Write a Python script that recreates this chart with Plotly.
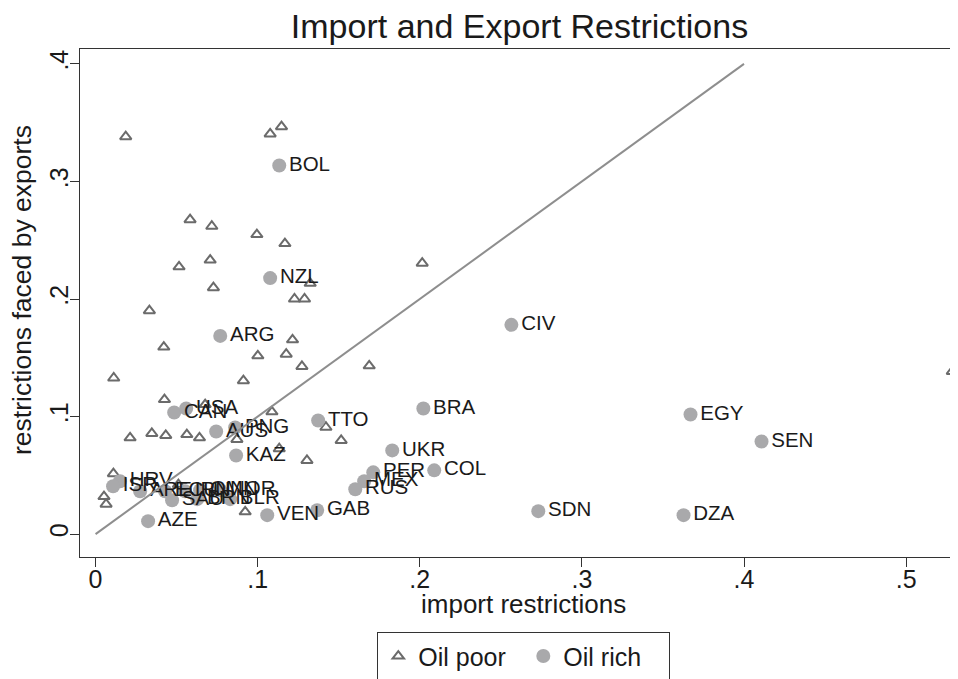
import plotly.graph_objects as go

# Oil rich countries (labelled)
rich_codes = ["BOL", "NZL", "ARG", "CIV", "BRA", "EGY", "SEN", "TTO", "UKR", "COL",
              "PER", "MEX", "RUS", "GAB", "SDN", "DZA", "VEN", "AZE", "KAZ", "AUS",
              "PNG", "CAN", "USA", "HRV", "ISR", "ARE", "ECU", "IRN", "OMN", "NOR",
              "SAU", "BRN", "BLR"]
rich_import = [0.1133, 0.1077, 0.0769, 0.2565, 0.2022, 0.3670, 0.4108, 0.1373, 0.1830, 0.2089,
               0.1713, 0.1657, 0.1602, 0.1367, 0.2731, 0.3627, 0.1059, 0.0324, 0.0867, 0.0744,
               0.0861, 0.0485, 0.0559, 0.0151, 0.0108, 0.0275, 0.0429, 0.0552, 0.0645, 0.0769,
               0.0472, 0.0627, 0.0830]
rich_export = [0.3136, 0.2178, 0.1686, 0.1780, 0.1068, 0.1017, 0.0788, 0.0966, 0.0712, 0.0542,
               0.0525, 0.0449, 0.0381, 0.0203, 0.0195, 0.0161, 0.0161, 0.0110, 0.0669, 0.0873,
               0.0907, 0.1034, 0.1068, 0.0449, 0.0407, 0.0364, 0.0364, 0.0364, 0.0373, 0.0373,
               0.0288, 0.0297, 0.0297]

# Oil poor countries
poor_import = [0.0186, 0.1077, 0.1147, 0.0583, 0.0717, 0.0995, 0.1168, 0.0515, 0.0707, 0.0727,
               0.1324, 0.1227, 0.1289, 0.0332, 0.1215, 0.0421, 0.1001, 0.1176, 0.1273, 0.0112,
               0.0912, 0.0425, 0.2015, 0.1688, 0.0676, 0.1088, 0.0213, 0.0347, 0.0433, 0.0563,
               0.0641, 0.0872, 0.1133, 0.1421, 0.1515, 0.1304, 0.0110, 0.0052, 0.0065, 0.0511,
               0.0923, 0.5285]
poor_export = [0.3381, 0.3404, 0.3466, 0.2675, 0.2619, 0.2548, 0.2472, 0.2274, 0.2331, 0.2096,
               0.2133, 0.2000, 0.2000, 0.1901, 0.1653, 0.1591, 0.1517, 0.1531, 0.1426, 0.1328,
               0.1305, 0.1144, 0.2305, 0.1432, 0.1102, 0.1040, 0.0819, 0.0856, 0.0839, 0.0847,
               0.0819, 0.0805, 0.0726, 0.0909, 0.0797, 0.0627, 0.0514, 0.0319, 0.0254, 0.0421,
               0.0189, 0.1384]

# 45-degree reference line
line_x = [0.0, 0.4]
line_y = [0.0, 0.4]

x_ticks = [0, 0.1, 0.2, 0.3, 0.4, 0.5]
x_tick_text = ["0", ".1", ".2", ".3", ".4", ".5"]
y_ticks = [0, 0.1, 0.2, 0.3, 0.4]
y_tick_text = ["0", ".1", ".2", ".3", ".4"]

FONT = "Liberation Sans, Arial, Helvetica, sans-serif"
TXT = "#1a1a1a"
AX = "#333333"

# page body has an 8px margin; figure is sized/placed to compensate
W, H = 950, 671

fig = go.Figure()

fig.add_trace(go.Scatter(
    x=poor_import, y=poor_export, mode="markers", name="Oil poor",
    marker=dict(symbol="triangle-up-open", size=10, color="#6b6b6b",
                line=dict(width=2, color="#6b6b6b")),
    cliponaxis=False,
))

fig.add_trace(go.Scatter(
    x=rich_import, y=rich_export, mode="markers+text", name="Oil rich",
    text=rich_codes, textposition="middle right",
    textfont=dict(size=20.5, color=TXT, family=FONT),
    marker=dict(symbol="circle", size=14, color="#a9a9ab"),
))

fig.add_trace(go.Scatter(
    x=line_x, y=line_y, mode="lines", showlegend=False,
    line=dict(color="#8e8e8e", width=2), hoverinfo="skip",
))

fig.update_layout(
    width=W, height=H,
    margin=dict(l=72, r=0, t=41, b=122, autoexpand=False),
    paper_bgcolor="white", plot_bgcolor="white",
    font=dict(family=FONT, color=TXT, size=25),
    title=dict(text="Import and Export Restrictions", x=(519.5 - 8) / W, xanchor="center",
               xref="container", yref="container",
               y=1 - 18 / H, yanchor="middle",
               font=dict(size=34, family=FONT, color=TXT)),
    showlegend=True,
    legend=dict(orientation="h", x=(515.5 - 72) / 878, xanchor="center",
                y=(549 - 624) / 508, yanchor="top",
                bordercolor=AX, borderwidth=1.3, bgcolor="white",
                font=dict(size=25, family=FONT, color=TXT),
                itemwidth=30, tracegroupgap=0, entrywidth=100, entrywidthmode="pixels"),
    annotations=[
        dict(text="import restrictions", xref="paper", yref="paper",
             x=(515.5 - 72) / 878, y=(549 - 596) / 508, xanchor="center", yanchor="middle",
             showarrow=False, font=dict(size=26, family=FONT, color=TXT)),
        dict(text="restrictions faced by exports", xref="paper", yref="paper",
             x=(14 - 72) / 878, y=(549 - 282) / 508, xanchor="center", yanchor="middle",
             textangle=-90, showarrow=False, font=dict(size=26.5, family=FONT, color=TXT)),
    ],
)

fig.update_xaxes(
    range=[-0.0096, 0.532], tickvals=x_ticks, ticktext=x_tick_text, automargin=False,
    showgrid=False, zeroline=False, showline=True, linecolor=AX, linewidth=1.3,
    mirror=True, ticks="outside", ticklen=9, tickcolor=AX, tickwidth=1.3,
    tickfont=dict(size=25), ticklabelstandoff=-9,
)
fig.update_yaxes(
    range=[-0.0195, 0.4127], tickvals=y_ticks, ticktext=y_tick_text, tickangle=-90,
    automargin=False,
    showgrid=False, zeroline=False, showline=True, linecolor=AX, linewidth=1.3,
    mirror=True, ticks="outside", ticklen=9, tickcolor=AX, tickwidth=1.3,
    tickfont=dict(size=25), ticklabelstandoff=-8,
)

fig.write_html("out.html")
